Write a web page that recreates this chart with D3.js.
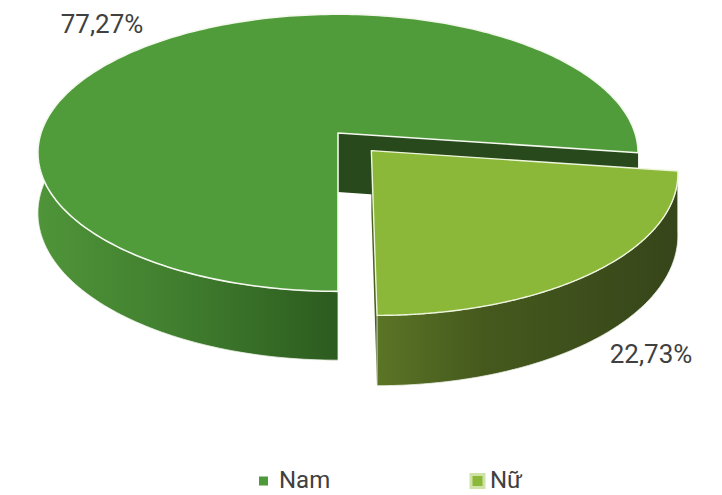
<!DOCTYPE html>
<html>
<head>
<meta charset="utf-8">
<script src="https://cdn.jsdelivr.net/npm/d3@7"></script>
<style>
html,body{margin:0;padding:0;background:#fff;}
svg{display:block;font-family:Roboto,"Noto Sans",sans-serif;}
</style>
</head>
<body>
<svg id="chart" width="722" height="495"></svg>
<script>
// ---- data ----
const categories = ["Nam", "Nữ"];
const values = [77.27, 22.73];
const valueLabels = ["77,27%", "22,73%"];
const topColors = ["#509c3a", "#8bb839"];
const legendColors = ["#4e9a3a", "#8cb83a"];

// ---- geometry ----
const W = 722, H = 495;
const cx = 338, cy = 133;     // projected pie centre
const R = 297;                // radius (world units)
const depth = 59;             // thickness
const sinE = 0.457, cosE = Math.sqrt(1 - sinE * sinE);
const D = 7 * R * cosE;       // perspective distance
const explode = 50;

const svg = d3.select("#chart");
const defs = svg.append("defs");

function project(X, Z, h) {
  const s = D / (D + Z * cosE);
  return [cx + X * s, cy - Z * sinE * s + h * s];
}
function pt(theta, r, h, off) {
  const X = off[0] + r * Math.sin(theta);
  const Z = off[1] + r * Math.cos(theta);
  return project(X, Z, h);
}

const pie = d3.pie().sort(null).startAngle(Math.PI).endAngle(3 * Math.PI);
const arcs = pie(values);

// gradients
const g1 = defs.append("linearGradient").attr("id", "sideNam")
  .attr("gradientUnits", "userSpaceOnUse").attr("x1", 38).attr("x2", 338).attr("y1", 0).attr("y2", 0);
g1.append("stop").attr("offset", 0).attr("stop-color", "#4f9439");
g1.append("stop").attr("offset", 0.45).attr("stop-color", "#417f2f");
g1.append("stop").attr("offset", 1).attr("stop-color", "#2c5b1f");
const g2 = defs.append("linearGradient").attr("id", "sideNu")
  .attr("gradientUnits", "userSpaceOnUse").attr("x1", 376).attr("x2", 680).attr("y1", 0).attr("y2", 0);
g2.append("stop").attr("offset", 0).attr("stop-color", "#5b7526");
g2.append("stop").attr("offset", 0.35).attr("stop-color", "#45591d");
g2.append("stop").attr("offset", 1).attr("stop-color", "#36451a");
const sideFills = ["url(#sideNam)", "url(#sideNu)"];
const radialFill = ["#27491b", "#4a601f"];

const line = d3.line();

function offsetFor(a) {
  if (a.index !== 1) return [0, 0];
  const mid = (a.startAngle + a.endAngle) / 2;
  return [explode * Math.sin(mid), explode * Math.cos(mid)];
}

function sidePath(a0, a1, off) {
  const n = 120, topPts = [], botPts = [];
  for (let i = 0; i <= n; i++) {
    const t = a0 + (a1 - a0) * i / n;
    topPts.push(pt(t, R, 0, off));
    botPts.push(pt(t, R, depth, off));
  }
  return line(topPts.concat(botPts.reverse())) + "Z";
}
function topPath(a0, a1, off) {
  const n = 240, pts = [pt(0, 0, 0, off)];
  for (let i = 0; i <= n; i++) {
    const t = a0 + (a1 - a0) * i / n;
    pts.push(pt(t, R, 0, off));
  }
  return line(pts) + "Z";
}
function radialPath(t, off) {
  return line([pt(0, 0, 0, off), pt(t, R, 0, off), pt(t, R, depth, off), pt(0, 0, depth, off)]) + "Z";
}

const g = svg.append("g");

// ---- Nam slice (index 0) ----
const nam = arcs[0], offN = offsetFor(nam);
g.append("path").attr("d", sidePath(nam.startAngle, nam.startAngle + Math.PI * 0.75, offN))
  .attr("fill", sideFills[0]).attr("stroke", "#eef3ea").attr("stroke-width", 0.8);
g.append("path").attr("d", radialPath(nam.endAngle, offN)).attr("fill", radialFill[0]);
g.append("path").attr("d", topPath(nam.startAngle, nam.endAngle, offN))
  .attr("fill", topColors[0]).attr("stroke", "#f4f8ef").attr("stroke-width", 1.6)
  .attr("stroke-linejoin", "round");

// ---- Nữ slice (index 1) ----
const nu = arcs[1], offU = offsetFor(nu);
g.append("path").attr("d", radialPath(nu.endAngle, offU)).attr("fill", radialFill[1]);
g.append("path").attr("d", sidePath(nu.startAngle, nu.endAngle, offU))
  .attr("fill", sideFills[1]).attr("stroke", "#eef3ea").attr("stroke-width", 0.8);
g.append("path").attr("d", topPath(nu.startAngle, nu.endAngle, offU))
  .attr("fill", topColors[1]).attr("stroke", "#eef5dc").attr("stroke-width", 1.4)
  .attr("stroke-linejoin", "round");

// ---- data labels ----
const labelPos = [[102, 33], [651, 363]];
svg.selectAll("text.lbl").data(valueLabels).join("text")
  .attr("class", "lbl")
  .attr("x", (d, i) => labelPos[i][0]).attr("y", (d, i) => labelPos[i][1])
  .attr("text-anchor", "middle").attr("font-size", 26).attr("fill", "#404040")
  .text(d => d);

// ---- legend ----
const legend = svg.append("g");
const legX = [259, 471];
const legSize = [9, 13];
categories.forEach((c, i) => {
  const s = legSize[i];
  legend.append("rect").attr("x", legX[i]).attr("y", 481 - s / 2).attr("width", s).attr("height", s)
    .attr("fill", legendColors[i])
    .attr("stroke", i === 1 ? "#cfe3a8" : "none").attr("stroke-width", i === 1 ? 3 : 0);
  legend.append("text").attr("x", i === 0 ? 279 : 490).attr("y", 488)
    .attr("font-size", 24).attr("fill", "#404040").text(c);
});
</script>
</body>
</html>
